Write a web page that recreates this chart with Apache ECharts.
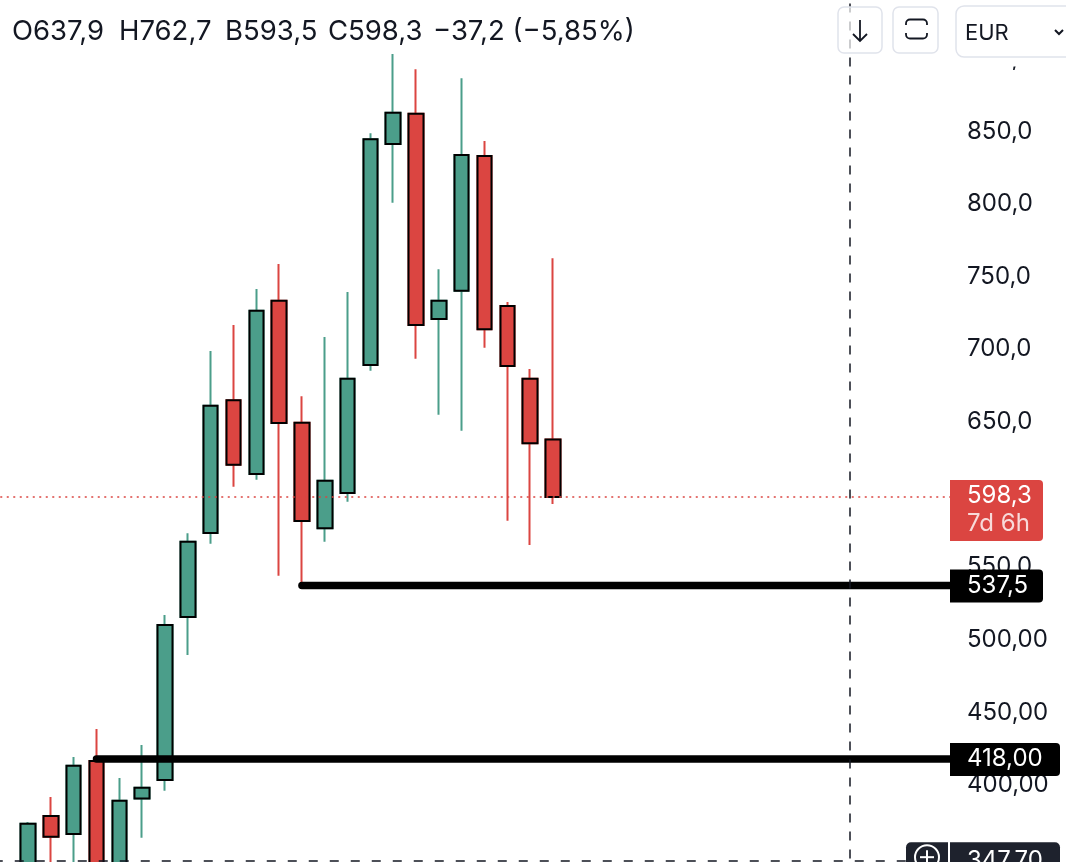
<!DOCTYPE html>
<html><head><meta charset="utf-8">
<script src="https://cdn.jsdelivr.net/npm/echarts@6/dist/echarts.min.js"></script>
<style>html,body{margin:0;padding:0;background:#fff}#c{width:1066px;height:862px}</style>
</head><body><div id="c"></div>
<script>
// ---- data (weekly candles, EUR) ----
const weeks = ['W01','W02','W03','W04','W05','W06','W07','W08','W09','W10','W11','W12','W13','W14','W15','W16','W17','W18','W19','W20','W21','W22','W23','W24'];
const opens  = [340.0, 378.8, 366.4, 416.6, 345.0, 390.9, 403.5, 515.7, 573.5, 664.9, 614.1, 733.4, 649.4, 576.8, 601.1, 689.1, 841.2, 862.1, 720.8, 740.3, 833.0, 729.8, 679.7, 637.9];
const closes = [373.5, 364.5, 413.4, 340.0, 389.3, 398.2, 510.2, 567.5, 661.1, 620.5, 726.5, 649.2, 581.8, 609.5, 679.7, 844.5, 862.8, 716.7, 733.4, 833.7, 713.7, 688.5, 635.3, 598.3];
const lows   = [330.0, 340.0, 345.0, 335.0, 340.0, 363.8, 396.2, 489.6, 566.2, 605.4, 610.2, 544.1, 537.5, 567.5, 595.1, 685.2, 800.8, 693.5, 654.9, 643.9, 701.1, 582.0, 565.3, 593.5];
const highs  = [374.6, 391.8, 419.4, 438.6, 404.9, 427.6, 517.1, 573.3, 698.8, 716.7, 741.5, 758.7, 667.6, 708.4, 739.4, 848.6, 903.2, 892.7, 755.0, 886.5, 843.3, 732.5, 686.4, 762.7];
const levelValues = [418.0, 537.5];
const levelStartWeek = ['W04', 'W13'];
const levelLabels = ['418,00', '537,5'];
const lastPrice = 598.3;
const lastPriceLabel = '598,3';
const countdownLabel = '7d 6h';
const crosshairValue = 347.7;
const crosshairLabel = '347,70';
const header = ['O637,9', 'H762,7', 'B593,5', 'C598,3', '\u221237,2 (\u22125,85%)'];
const yMin = 300, yMax = 950, yStep = 50;
const padBefore = 1, padAfter = 17;

// ---- build ----
const cats = [];
for (let i = 0; i < padBefore; i++) cats.push('pre' + i);
weeks.forEach(w => cats.push(w));
for (let i = 0; i < padAfter; i++) cats.push('post' + i);
const pad = (arr) => [...Array(padBefore).fill('-'), ...arr, ...Array(padAfter).fill('-')];
const wickData = pad(weeks.map((w, i) => [opens[i], closes[i], lows[i], highs[i]]));
const bodyData = pad(weeks.map((w, i) => [opens[i], closes[i], Math.min(opens[i], closes[i]), Math.max(opens[i], closes[i])]));
const crossIdx = 37;

const GREEN = '#4b9e8a', RED = '#db4541', INK = '#131722';
const FONT = 'Inter';

const levelSeries = levelValues.map((v, k) => ({
  type: 'line', name: 'level' + k, data: [[cats.indexOf(levelStartWeek[k]), v], [cats.length + 6, v]],
  symbol: 'none', clip: true, silent: true, z: 4,
  lineStyle: { color: '#000', width: 7.5, cap: 'round' }
}));

const chart = echarts.init(document.getElementById('c'), null, { renderer: 'canvas' });
chart.setOption({
  animation: false,
  backgroundColor: '#fff',
  grid: { left: -6.24, width: 958.74, top: -14, height: 944.5, containLabel: false, outerBoundsMode: 'none' },
  xAxis: { type: 'category', data: cats, boundaryGap: true, show: false },
  yAxis: {
    type: 'value', position: 'right', min: yMin, max: yMax, interval: yStep,
    axisLine: { show: false }, axisTick: { show: false }, splitLine: { show: false },
    axisLabel: {
      margin: 14.5, color: INK, fontSize: 24, fontFamily: FONT,
      formatter: v => (v >= 550 ? v.toFixed(1) : v.toFixed(2)).replace('.', ',')
    }
  },
  series: [
    {
      type: 'candlestick', name: 'wicks', data: wickData, barWidth: 15, z: 2,
      itemStyle: { color: GREEN, color0: RED, borderColor: GREEN, borderColor0: RED, borderWidth: 2 },
      markLine: {
        symbol: 'none', silent: true, label: { show: false },
        data: [
          { yAxis: lastPrice, lineStyle: { color: RED, width: 1.6, type: [2, 4.5] } },
          { xAxis: crossIdx, lineStyle: { color: INK, width: 1.5, type: [9, 9] } },
          { yAxis: crosshairValue, lineStyle: { color: INK, width: 1.5, type: [9, 12] } }
        ]
      }
    },
    {
      type: 'candlestick', name: 'bodies', data: bodyData, barWidth: 15, z: 3,
      itemStyle: { color: GREEN, color0: RED, borderColor: '#000', borderColor0: '#000', borderWidth: 2 }
    },
    ...levelSeries
  ]
});

// ---- price labels / UI chrome, placed with the chart's own scale ----
const py = v => chart.convertToPixel({ gridIndex: 0 }, [0, v])[1];
const yLast = py(lastPrice);
const g = [];
// toolbar cover
g.push({ type: 'rect', shape: { x: 950, y: 0, width: 116, height: 66.5 }, style: { fill: '#fff' }, z: 100 });
g.push({ type: 'rect', shape: { x: 956, y: 6, width: 130, height: 51, r: 8 }, style: { fill: '#fff', stroke: '#e0e3eb', lineWidth: 1.5 }, z: 101 });
g.push({ type: 'text', x: 965, y: 33, style: { text: 'EUR', fill: INK, font: '22px Inter', verticalAlign: 'middle' }, z: 102 });
g.push({ type: 'polyline', shape: { points: [[1055, 30], [1059, 34], [1063, 30]] }, style: { stroke: INK, lineWidth: 2, fill: null }, z: 102 });
// buttons
g.push({ type: 'rect', shape: { x: 838, y: 7, width: 44, height: 46, r: 6 }, style: { fill: 'rgba(255,255,255,0.7)', stroke: '#e0e3eb', lineWidth: 1.5 }, z: 100 });
g.push({ type: 'polyline', shape: { points: [[860, 20], [860, 41]] }, style: { stroke: INK, lineWidth: 1.8, fill: null }, z: 101 });
g.push({ type: 'polyline', shape: { points: [[853, 34], [860, 41], [867, 34]] }, style: { stroke: INK, lineWidth: 1.8, fill: null }, z: 101 });
g.push({ type: 'rect', shape: { x: 893, y: 7, width: 45, height: 46, r: 6 }, style: { fill: '#fff', stroke: '#e0e3eb', lineWidth: 1.5 }, z: 100 });
g.push({ type: 'rect', shape: { x: 906, y: 19.5, width: 21, height: 19, r: 4 }, style: { fill: null, stroke: INK, lineWidth: 1.8 }, z: 101 });
g.push({ type: 'rect', shape: { x: 903, y: 25, width: 6, height: 8 }, style: { fill: '#fff' }, z: 102 });
g.push({ type: 'rect', shape: { x: 924, y: 25, width: 6, height: 8 }, style: { fill: '#fff' }, z: 102 });
// header OHLC
const hx = [12, 119, 225, 328, 433];
header.forEach((t, i) => g.push({ type: 'text', x: hx[i], y: 32, style: { text: t, fill: INK, font: '27.5px Inter', verticalAlign: 'middle' }, z: 100 }));
// last price label
g.push({ type: 'rect', shape: { x: 950, y: yLast - 17, width: 93, height: 61, r: [0, 4, 4, 0] }, style: { fill: RED }, z: 100 });
g.push({ type: 'text', x: 967, y: yLast - 1, style: { text: lastPriceLabel, fill: '#fff', font: '24px Inter', verticalAlign: 'middle' }, z: 101 });
g.push({ type: 'text', x: 967, y: yLast + 27, style: { text: countdownLabel, fill: 'rgba(255,255,255,0.8)', font: '24px Inter', verticalAlign: 'middle' }, z: 101 });
// level labels
levelValues.forEach((v, k) => {
  const y = py(v);
  const w = levelLabels[k].length > 5 ? 110 : 93;
  g.push({ type: 'rect', shape: { x: 950, y: y - 16, width: w, height: 33, r: [0, 4, 4, 0] }, style: { fill: '#000' }, z: 100 });
  g.push({ type: 'text', x: 967, y: y, style: { text: levelLabels[k], fill: '#fff', font: '24px Inter', verticalAlign: 'middle' }, z: 101 });
});
// crosshair label
const yc = py(crosshairValue);
g.push({ type: 'rect', shape: { x: 950, y: yc - 19, width: 110, height: 40, r: [0, 5, 5, 0] }, style: { fill: '#1e222d' }, z: 100 });
g.push({ type: 'text', x: 967, y: yc, style: { text: crosshairLabel, fill: '#fff', font: '24px Inter', verticalAlign: 'middle' }, z: 101 });
g.push({ type: 'rect', shape: { x: 906, y: yc - 19, width: 42, height: 40, r: [5, 0, 0, 5] }, style: { fill: '#1e222d' }, z: 100 });
g.push({ type: 'circle', shape: { cx: 927, cy: yc - 4, r: 12 }, style: { fill: null, stroke: '#fff', lineWidth: 2 }, z: 101 });
g.push({ type: 'polyline', shape: { points: [[927, yc - 11], [927, yc + 3]] }, style: { stroke: '#fff', lineWidth: 2, fill: null }, z: 101 });
g.push({ type: 'polyline', shape: { points: [[920, yc - 4], [934, yc - 4]] }, style: { stroke: '#fff', lineWidth: 2, fill: null }, z: 101 });
chart.setOption({ graphic: { elements: g } });
</script>
</body></html>
